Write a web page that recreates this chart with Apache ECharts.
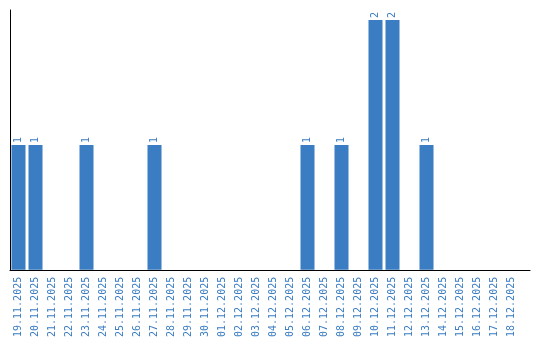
<!DOCTYPE html>
<html><head><meta charset="utf-8">
<script src="https://cdn.jsdelivr.net/npm/echarts@6/dist/echarts.min.js"></script>
<style>html,body{margin:0;padding:0;background:#fff}#c{width:540px;height:340px}</style>
</head><body><div id="c"></div>
<script>
const categories = ['19.11.2025','20.11.2025','21.11.2025','22.11.2025','23.11.2025','24.11.2025','25.11.2025','26.11.2025','27.11.2025','28.11.2025','29.11.2025','30.11.2025','01.12.2025','02.12.2025','03.12.2025','04.12.2025','05.12.2025','06.12.2025','07.12.2025','08.12.2025','09.12.2025','10.12.2025','11.12.2025','12.12.2025','13.12.2025','14.12.2025','15.12.2025','16.12.2025','17.12.2025','18.12.2025'];
const values = [1,1,0,0,1,0,0,0,1,0,0,0,0,0,0,0,0,1,0,1,0,2,2,0,1,0,0,0,0,0];
const blue = '#3a7dc2';
const chart = echarts.init(document.getElementById('c'), null, {renderer:'canvas'});
chart.setOption({
  animation: false,
  grid: [
    {left: 10, top: 10, width: 510, bottom: 70, containLabel: false},
    {left: 10, top: 10, right: 10, bottom: 70, containLabel: false}
  ],
  xAxis: [
    {type: 'category', gridIndex: 0, data: categories,
     axisLine: {show: false}, axisTick: {show: false},
     axisLabel: {rotate: 90, interval: 0, color: blue, fontFamily: 'DejaVu Sans Mono', fontSize: 10, margin: 7}},
    {type: 'value', gridIndex: 1, min: 0, max: 1,
     axisLine: {show: true, lineStyle: {color: '#000', width: 1}}, axisTick: {show: false},
     axisLabel: {show: false}, splitLine: {show: false}}
  ],
  yAxis: [
    {type: 'value', gridIndex: 0, min: 0, max: 2.08,
     axisLine: {show: true, lineStyle: {color: '#000', width: 1}}, axisTick: {show: false},
     axisLabel: {show: false}, splitLine: {show: false}},
    {type: 'value', gridIndex: 1, min: 0, max: 1, show: false}
  ],
  series: [{
    type: 'bar', xAxisIndex: 0, yAxisIndex: 0,
    data: values.map(v => v === 0 ? {value: 0, label: {show: false}} : v),
    barCategoryGap: '17.6%',
    itemStyle: {color: blue},
    label: {show: true, position: 'top', distance: 2, rotate: 90, align: 'left', verticalAlign: 'middle',
            color: blue, fontFamily: 'DejaVu Sans Mono', fontSize: 10}
  }]
});
</script></body></html>
